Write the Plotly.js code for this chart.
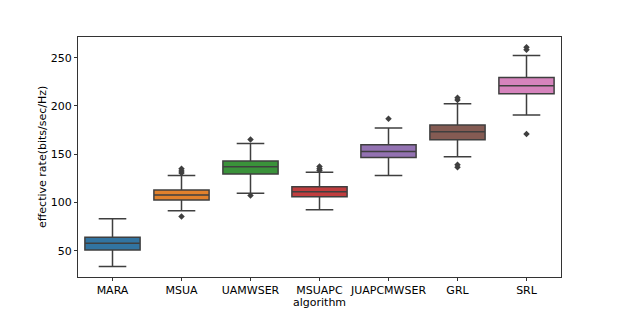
<!DOCTYPE html>
<html>
<head>
<meta charset="utf-8">
<script src="https://cdn.plot.ly/plotly-3.0.1.min.js"></script>
<style>html,body{margin:0;padding:0;background:#fff;}#chart{width:623px;height:312px;}</style>
</head>
<body>
<div id="chart"></div>
<script>
var algorithms = ["MARA", "MSUA", "UAMWSER", "MSUAPC", "JUAPCMWSER", "GRL", "SRL"];
var lowerWhisker = [33.7, 91.5, 109.4, 92.5, 128.0, 147.4, 190.6];
var q1Values = [50.7, 102.5, 129.5, 106.0, 146.7, 165.0, 212.7];
var medianValues = [57.6, 107.7, 137.0, 111.1, 152.9, 173.3, 221.0];
var q3Values = [63.8, 112.9, 142.9, 116.3, 159.8, 180.2, 229.6];
var upperWhisker = [83.2, 128.0, 161.2, 131.2, 177.2, 202.3, 252.4];
var outlierAlgorithm = ["MSUA", "MSUA", "MSUA", "MSUA",
                        "UAMWSER", "UAMWSER",
                        "MSUAPC", "MSUAPC", "MSUAPC",
                        "JUAPCMWSER",
                        "GRL", "GRL", "GRL", "GRL",
                        "SRL", "SRL", "SRL"];
var outlierValue = [130.5, 132.7, 134.8, 85.3,
                    165.3, 107.3,
                    133.0, 135.0, 137.2,
                    186.8,
                    206.3, 208.6, 136.6, 139.0,
                    258.4, 260.8, 171.0];
var colors = ["#3274A1", "#E1812C", "#3A923A", "#C03D3E", "#9372B2", "#845B53", "#D684BD"];

var traces = algorithms.map(function (a, i) {
  return {
    type: "box",
    x: [a],
    q1: [q1Values[i]],
    median: [medianValues[i]],
    q3: [q3Values[i]],
    lowerfence: [lowerWhisker[i]],
    upperfence: [upperWhisker[i]],
    boxpoints: false,
    fillcolor: colors[i],
    line: {color: "#3f3f3f", width: 1.5},
    whiskerwidth: 0.5,
    width: 0.8,
    showlegend: false,
    hoverinfo: "skip"
  };
});
traces.push({
  type: "scatter",
  mode: "markers",
  x: outlierAlgorithm,
  y: outlierValue,
  marker: {symbol: "diamond", size: 5, color: "#3f3f3f"},
  showlegend: false,
  hoverinfo: "skip"
});

var layout = {
  width: 623, height: 312,
  margin: {l: 78, r: 62, t: 37, b: 35},
  paper_bgcolor: "#fff", plot_bgcolor: "#fff",
  font: {family: "DejaVu Sans", size: 11, color: "#000"},
  showlegend: false,
  xaxis: {
    type: "category",
    categoryorder: "array",
    categoryarray: algorithms,
    range: [-0.5, 6.5],
    showgrid: false, zeroline: false,
    showline: true, mirror: true, linecolor: "#333", linewidth: 1,
    ticks: "outside", ticklen: 3, tickcolor: "#333", tickwidth: 1,
    tickfont: {size: 11}
  },
  yaxis: {
    range: [22.7, 271.5],
    tickvals: [50, 100, 150, 200, 250],
    showgrid: false, zeroline: false,
    showline: true, mirror: true, linecolor: "#333", linewidth: 1,
    ticks: "outside", ticklen: 3, tickcolor: "#333", tickwidth: 1,
    tickfont: {size: 11}
  },
  annotations: [
    {text: "algorithm", xref: "paper", yref: "paper", x: 0.5, y: 0,
     xanchor: "center", yanchor: "middle", yshift: -25, showarrow: false,
     font: {size: 11}},
    {text: "effective rate(bits/sec/Hz)", xref: "paper", yref: "paper", x: 0, y: 0.5,
     xanchor: "center", yanchor: "middle", xshift: -36, textangle: -90, showarrow: false,
     font: {size: 11}}
  ]
};
Plotly.newPlot("chart", traces, layout, {staticPlot: true, displayModeBar: false});
</script>
</body>
</html>
